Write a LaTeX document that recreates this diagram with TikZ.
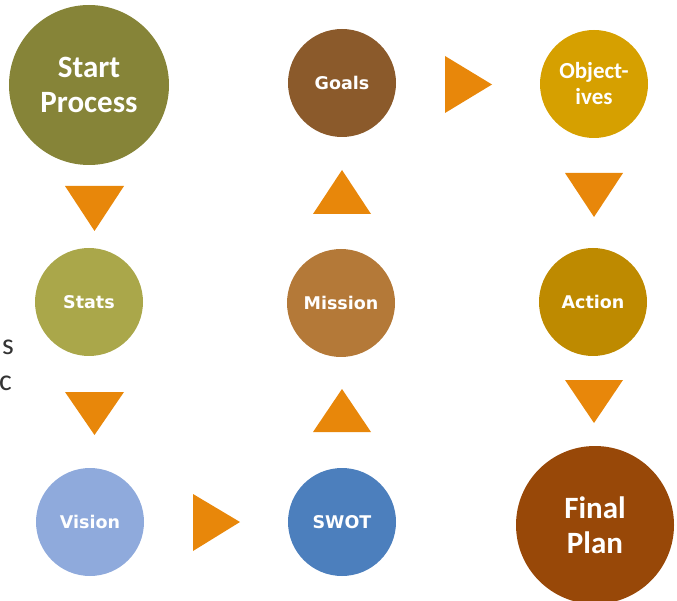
\documentclass[tikz,border=0pt]{standalone}
\usepackage{fontspec}
\setmainfont{Carlito}
\newfontfamily\labelfont{DejaVu Sans}
\definecolor{cStart}{RGB}{134,132,56}
\definecolor{cStats}{RGB}{170,167,74}
\definecolor{cVision}{RGB}{143,170,220}
\definecolor{cSwot}{RGB}{76,127,189}
\definecolor{cMission}{RGB}{180,121,56}
\definecolor{cGoals}{RGB}{139,90,43}
\definecolor{cObj}{RGB}{214,160,0}
\definecolor{cAction}{RGB}{190,138,0}
\definecolor{cFinal}{RGB}{152,72,8}
\definecolor{cArrow}{RGB}{232,135,10}
\begin{document}
\begin{tikzpicture}[x=1pt,y=-1pt,
  bigstep/.style={circle,inner sep=0pt,minimum size=160pt,text=white,align=center,
    font=\bfseries\fontsize{31}{35}\selectfont},
  smallstep/.style={circle,inner sep=0pt,minimum size=108pt,text=white,align=center,
    font=\labelfont\bfseries\fontsize{17.5}{20}\selectfont},
  wrapstep/.style={circle,inner sep=0pt,minimum size=108pt,text=white,align=center,
    font=\bfseries\fontsize{23}{26}\selectfont},
  marker/.style={fill=cArrow},
  side/.style={inner sep=0pt,font=\fontsize{30}{36}\selectfont,text=black!80}]
\useasboundingbox (0,0) rectangle (677,601);

% text running in from the left edge
\node[side,anchor=east] (sidea) at (14,347) {s};
\node[side,anchor=east] (sideb) at (12,383) {c};

% process steps
\node[bigstep,fill=cStart]     (start)   at (89,85)   {Start\\Process};
\node[smallstep,fill=cStats]   (stats)   at (89,302)  {Stats};
\node[smallstep,fill=cVision]  (vision)  at (90,522)  {Vision};
\node[smallstep,fill=cSwot]    (swot)    at (342,522) {SWOT};
\node[smallstep,fill=cMission] (mission) at (341,303) {Mission};
\node[smallstep,fill=cGoals]   (goals)   at (342,83)  {Goals};
\node[wrapstep,fill=cObj]      (obj)     at (594,84)  {Object-\\ives};
\node[smallstep,fill=cAction]  (action)  at (593,302) {Action};
\node[bigstep,fill=cFinal,minimum size=158pt] (final) at (595,525) {Final\\Plan};

% direction markers
\fill[marker] (65,186) -- (124,186) -- (94.5,231) -- cycle;
\fill[marker] (65,392) -- (124,392) -- (94.5,435) -- cycle;
\fill[marker] (193,494) -- (240,522) -- (193,551) -- cycle;
\fill[marker] (313,432) -- (371,432) -- (342,389) -- cycle;
\fill[marker] (313,214) -- (371,214) -- (342,170) -- cycle;
\fill[marker] (445,56) -- (492,84.5) -- (445,113) -- cycle;
\fill[marker] (565,173) -- (623,173) -- (594,217) -- cycle;
\fill[marker] (565,380) -- (623,380) -- (594,423) -- cycle;
\end{tikzpicture}
\end{document}
